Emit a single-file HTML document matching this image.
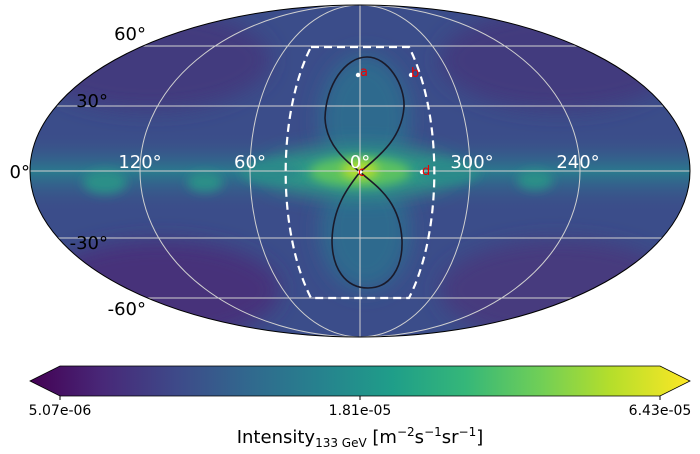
<!DOCTYPE html>
<html><head><style>body{margin:0;background:#fff}svg{display:block}</style></head><body>
<svg width="700" height="454" viewBox="0 0 700 454" xmlns="http://www.w3.org/2000/svg" font-family="DejaVu Sans, Liberation Sans, sans-serif">
<defs>
<clipPath id="cl"><ellipse cx="360" cy="171" rx="330" ry="166"/></clipPath>
<filter id="b1" x="-50%" y="-50%" width="200%" height="200%"><feGaussianBlur stdDeviation="10"/></filter>
<filter id="b2" x="-50%" y="-50%" width="200%" height="200%"><feGaussianBlur stdDeviation="5"/></filter>
<linearGradient id="plane" x1="0" y1="0" x2="0" y2="1">
<stop offset="0" stop-color="#3e4a89" stop-opacity="0"/>
<stop offset="0.5" stop-color="#2a7a8e"/>
<stop offset="1" stop-color="#3e4a89" stop-opacity="0"/>
</linearGradient>
<linearGradient id="cb" x1="0" y1="0" x2="1" y2="0">
<stop offset="0" stop-color="#440154"/><stop offset="0.11" stop-color="#482878"/><stop offset="0.22" stop-color="#3e4989"/><stop offset="0.33" stop-color="#31688e"/><stop offset="0.44" stop-color="#26828e"/><stop offset="0.55" stop-color="#1f9e89"/><stop offset="0.66" stop-color="#35b779"/><stop offset="0.77" stop-color="#6ece58"/><stop offset="0.88" stop-color="#b5de2b"/><stop offset="1" stop-color="#fde725"/>
</linearGradient>
</defs>
<g clip-path="url(#cl)">
<rect x="0" y="0" width="700" height="340" fill="#3b4d8a"/>
<ellipse cx="150" cy="60" rx="120" ry="50" fill="#433a7e" filter="url(#b1)"/>
<ellipse cx="560" cy="60" rx="120" ry="50" fill="#433a7e" filter="url(#b1)"/>
<ellipse cx="160" cy="290" rx="120" ry="50" fill="#46307a" filter="url(#b1)"/>
<ellipse cx="560" cy="290" rx="120" ry="50" fill="#463a7e" filter="url(#b1)"/>
<rect x="20" y="130" width="680" height="84" fill="url(#plane)"/>
<ellipse cx="365" cy="120" rx="45" ry="65" fill="#2f6a8e" filter="url(#b1)"/>
<ellipse cx="365" cy="230" rx="45" ry="60" fill="#2f6a8e" filter="url(#b1)"/>
<ellipse cx="360" cy="172" rx="95" ry="24" fill="#2f9a86" filter="url(#b1)"/>
<ellipse cx="360" cy="172" rx="50" ry="15" fill="#5cc261" filter="url(#b2)"/>
<ellipse cx="360" cy="170" rx="18" ry="9" fill="#b5de2b" filter="url(#b2)"/>
<ellipse cx="105" cy="182" rx="22" ry="12" fill="#2a9088" filter="url(#b2)"/>
<ellipse cx="205" cy="182" rx="18" ry="10" fill="#2a9088" filter="url(#b2)"/>
<ellipse cx="535" cy="180" rx="18" ry="10" fill="#2a9088" filter="url(#b2)"/>
<ellipse cx="270" cy="172" rx="30" ry="12" fill="#2a8a8a" filter="url(#b2)"/>
<ellipse cx="450" cy="172" rx="30" ry="12" fill="#2a8a8a" filter="url(#b2)"/>
<g stroke="#d0d0d0" stroke-width="1" fill="none">
<line x1="0" y1="46" x2="700" y2="46"/><line x1="0" y1="106" x2="700" y2="106"/><line x1="0" y1="171" x2="700" y2="171"/><line x1="0" y1="238" x2="700" y2="238"/><line x1="0" y1="298" x2="700" y2="298"/>
<line x1="360" y1="5" x2="360" y2="337"/>
<ellipse cx="360" cy="171" rx="110" ry="166"/><ellipse cx="360" cy="171" rx="220" ry="166"/>
</g>
</g>
<ellipse cx="360" cy="171" rx="330" ry="166" fill="none" stroke="#000" stroke-width="1"/>
<path d="M311,47 L409,47 A73.3,166 0 0 1 409,298 L311,298 A73.3,166 0 0 1 311,47 Z" fill="none" stroke="#fff" stroke-width="2.2" stroke-dasharray="8,5"/>
<path d="M360,172 C385,152 402,135 404,107 C405,85 388,57 367,57 C345,57 326,85 325,118 C326,145 345,160 360,172 C375,185 400,200 402,240 C403,268 390,288 368,288 C345,288 332,268 332,240 C333,205 350,185 360,172 Z" fill="none" stroke="#1a1a2a" stroke-width="1.6"/>
<g fill="#fff"><circle cx="358" cy="75" r="2.2"/><circle cx="411" cy="75" r="2.2"/><circle cx="360" cy="172" r="2.2"/><circle cx="422" cy="172" r="2.2"/></g>
<g fill="#e00" font-size="13"><text x="360" y="76">a</text><text x="411" y="77">b</text><text x="358" y="176">c</text><text x="422" y="175">d</text></g>
<g fill="#fff" font-size="18" text-anchor="middle"><text x="140" y="168">120°</text><text x="250" y="168">60°</text><text x="360" y="168">0°</text><text x="472" y="168">300°</text><text x="578" y="168">240°</text></g>
<g fill="#000" font-size="18" text-anchor="end"><text x="146" y="40">60°</text><text x="108" y="107">30°</text><text x="30" y="178">0°</text><text x="108" y="249">-30°</text><text x="146" y="315">-60°</text></g>
<polygon points="30,381 60,366 660,366 690,381 660,396 60,396" fill="url(#cb)" stroke="#000" stroke-width="0.8"/>
<g stroke="#000"><line x1="60" y1="396" x2="60" y2="400"/><line x1="360" y1="396" x2="360" y2="400"/><line x1="660" y1="396" x2="660" y2="400"/></g>
<g font-size="14" text-anchor="middle" fill="#000"><text x="60" y="415">5.07e-06</text><text x="360" y="415">1.81e-05</text><text x="660" y="415">6.43e-05</text></g>
<text x="360" y="443" font-size="18" text-anchor="middle">Intensity<tspan font-size="12" dy="4">133 GeV</tspan><tspan dy="-4"> [m</tspan><tspan font-size="12" dy="-7">−2</tspan><tspan dy="7">s</tspan><tspan font-size="12" dy="-7">−1</tspan><tspan dy="7">sr</tspan><tspan font-size="12" dy="-7">−1</tspan><tspan dy="7">]</tspan></text>
</svg>
</body></html>
